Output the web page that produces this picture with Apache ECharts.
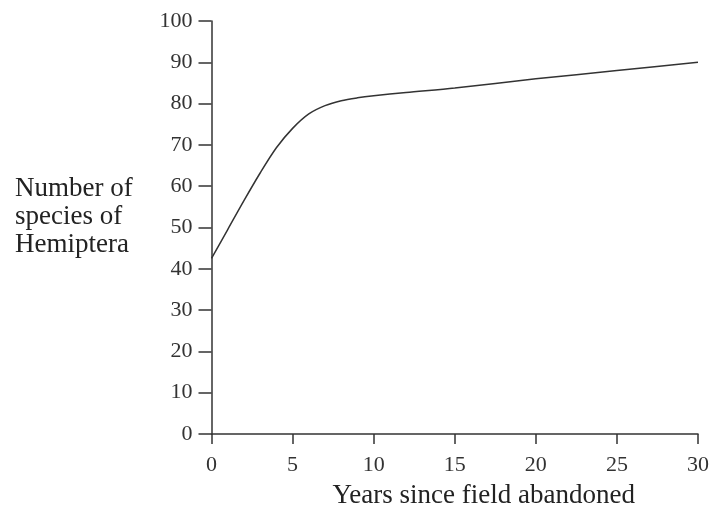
<!DOCTYPE html>
<html>
<head>
<meta charset="utf-8">
<script src="https://cdn.jsdelivr.net/npm/echarts@6/dist/echarts.min.js"></script>
<style>html,body{margin:0;padding:0;background:#fff}#c{width:713px;height:514px}</style>
</head>
<body>
<div id="c"></div>
<script>
var years   = [0, 1, 2, 3, 4, 5, 6, 7, 8, 9, 10, 12, 15, 20, 25, 30];
var species = [42.5, 49.5, 56.5, 63.2, 69.3, 74, 77.5, 79.5, 80.7, 81.4, 81.9, 82.7, 83.8, 86, 88, 90];
var xTicks = [0, 5, 10, 15, 20, 25, 30];
var yTicks = [0, 10, 20, 30, 40, 50, 60, 70, 80, 90, 100];
var yTitle = 'Number of\nspecies of\nHemiptera';
var xTitle = 'Years since field abandoned';

var font = '"Liberation Serif", "DejaVu Serif", serif';
var chart = echarts.init(document.getElementById('c'));
chart.setOption({
  animation: false,
  backgroundColor: '#fff',
  grid: {left: 211.5, right: 15, top: 21, bottom: 76},
  graphic: [{
    type: 'text', left: 15, top: 175,
    style: {text: yTitle, font: '27px ' + font, fill: '#222', lineHeight: 28}
  }],
  xAxis: {
    type: 'value', min: 0, max: 30, interval: 5,
    name: xTitle,
    nameLocation: 'middle', nameGap: 48,
    nameTextStyle: {fontFamily: font, fontSize: 27, color: '#222', padding: [0, 0, 0, 58]},
    axisLine: {lineStyle: {color: '#333', width: 1.5}},
    axisTick: {length: 10, lineStyle: {color: '#333', width: 1.5}},
    axisLabel: {fontFamily: font, fontSize: 22, color: '#333', margin: 20},
    splitLine: {show: false}
  },
  yAxis: {
    type: 'value', min: 0, max: 100, interval: 10,
    axisLine: {show: true, lineStyle: {color: '#333', width: 1.5}},
    axisTick: {show: true, length: 13, lineStyle: {color: '#333', width: 1.5}},
    axisLabel: {fontFamily: font, fontSize: 22, color: '#333', margin: 19},
    splitLine: {show: false}
  },
  series: [{
    type: 'line',
    data: years.map(function (y, i) { return [y, species[i]]; }),
    smooth: 0.3,
    showSymbol: false,
    lineStyle: {color: '#333', width: 1.5}
  }]
});
</script>
</body>
</html>
